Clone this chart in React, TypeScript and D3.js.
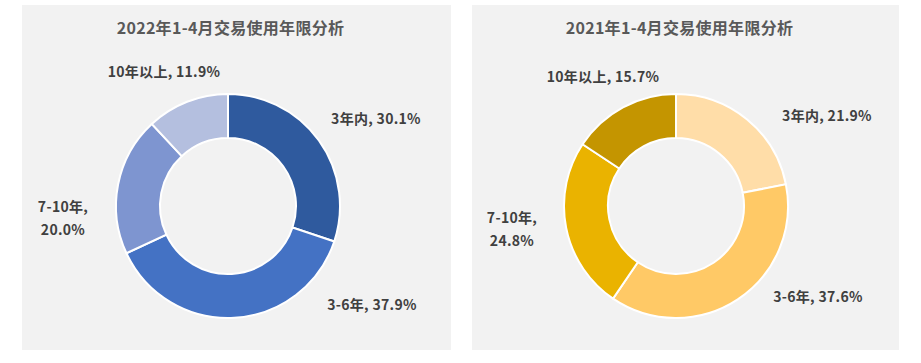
import React from "react";
import * as d3 from "d3";

const categories = ["3年内", "3-6年", "7-10年", "10年以上"];
const values2022 = [30.1, 37.9, 20.0, 11.9];
const values2021 = [21.9, 37.6, 24.8, 15.7];
const titles = ["2022年1-4月交易使用年限分析", "2021年1-4月交易使用年限分析"];
const colors2022 = ["#2F5A9E", "#4472C4", "#7E95D0", "#B4BFDF"];
const colors2021 = ["#FFDDA8", "#FFC966", "#EAB300", "#C49500"];

const labelPos2022 = [
  { x: 376, y: 119 },
  { x: 372, y: 305 },
  { x: 63, y: 207 },
  { x: 164, y: 72 },
];
const labelPos2021 = [
  { x: 827, y: 116 },
  { x: 818, y: 297 },
  { x: 512, y: 218 },
  { x: 603, y: 77 },
];

const FONT = "'Noto Sans CJK SC', 'Noto Sans', sans-serif";

function Donut({ cx, cy, values, colors, labelPos, panelX, panelW, title }: any) {
  const pie = d3.pie<number>().sort(null).value((d) => d)(values);
  const arc = d3.arc<d3.PieArcDatum<number>>().innerRadius(68).outerRadius(112);
  return (
    <g>
      <rect x={panelX} y={5} width={panelW} height={345} fill="#F2F2F2" />
      <text
        x={panelX + panelW / 2 - 6}
        y={34}
        textAnchor="middle"
        fontSize={16}
        fontWeight="bold"
        fill="#595959"
        fontFamily={FONT}
        letterSpacing={0.3}
      >
        {title}
      </text>
      <g transform={`translate(${cx},${cy})`}>
        {pie.map((p, i) => (
          <path key={i} d={arc(p) || ""} fill={colors[i]} stroke="#FFFFFF" strokeWidth={2} />
        ))}
      </g>
      {pie.map((p, i) => {
        const lp = labelPos[i];
        const txt = `${categories[i]}, ${values[i].toFixed(1)}%`;
        const lines = i === 2 ? [`${categories[i]},`, `${values[i].toFixed(1)}%`] : [txt];
        return (
          <text
            key={i}
            x={lp.x}
            y={lp.y}
            textAnchor="middle"
            fontSize={14}
            fontWeight="bold"
            fill="#404040"
            fontFamily={FONT}
            letterSpacing={0.3}
          >
            {lines.map((l, j) => (
              <tspan key={j} x={lp.x} dy={j === 0 ? 5 : 23}>
                {l}
              </tspan>
            ))}
          </text>
        );
      })}
    </g>
  );
}

export default function App() {
  return (
    <svg
      width={921}
      height={363}
      style={{ position: "absolute", left: 0, top: 0, background: "#FFFFFF" }}
    >
      <rect x={0} y={0} width={921} height={363} fill="#FFFFFF" />
      <Donut
        cx={228}
        cy={206}
        values={values2022}
        colors={colors2022}
        labelPos={labelPos2022}
        panelX={22}
        panelW={429}
        title={titles[0]}
      />
      <Donut
        cx={676}
        cy={206}
        values={values2021}
        colors={colors2021}
        labelPos={labelPos2021}
        panelX={472}
        panelW={427}
        title={titles[1]}
      />
    </svg>
  );
}
